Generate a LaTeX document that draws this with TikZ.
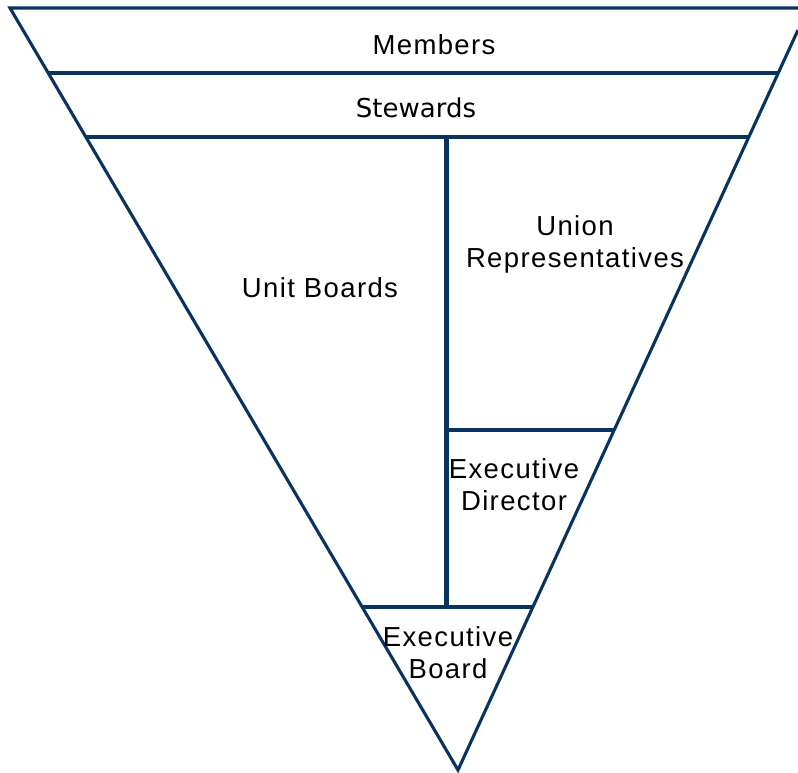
\documentclass[tikz,border=0pt]{standalone}
\usepackage{fontspec}
\setmainfont{Liberation Sans}
\newfontfamily\lbl[LetterSpace=5]{Liberation Sans}
\newfontfamily\dvs{DejaVu Sans}
\usetikzlibrary{calc}
\definecolor{navy}{RGB}{8,51,94}
\tikzset{
  edge/.style={draw=navy, line width=3.1pt},
  thick edge/.style={draw=navy, line width=5pt},
  lab/.style={font=\lbl\fontsize{27.5}{32}\selectfont, align=center, inner sep=0pt, text=black},
}
\begin{document}
\begin{tikzpicture}[x=1pt,y=-1pt]
\useasboundingbox (0,0) rectangle (798,773);
% outline
\coordinate (TL) at (10,8);
\coordinate (TR) at (798,8);
\coordinate (RT) at (798,30);
\coordinate (AP) at (458,770);
\draw[edge, line join=miter] (TR) -- (TL) -- (AP) -- (RT);
% horizontal bands
\coordinate (L1) at (48.4,73);
\coordinate (R1) at (778.2,73);
\coordinate (L2) at (86.0,137);
\coordinate (R2) at (749.1,137);
\coordinate (V1) at (446,137);
\coordinate (V2) at (446,607);
\coordinate (ED1) at (446,430);
\coordinate (ED2) at (614.4,430);
\coordinate (EB1) at (362.3,607);
\coordinate (EB2) at (532.9,607);
\draw[edge] (L1) -- (R1);
\draw[edge] (L2) -- (R2);
\draw[thick edge] (V1) -- (V2);
\draw[edge] (ED1) -- (ED2);
\draw[edge] (EB1) -- (EB2);
% labels
\node[lab] (members) at (434,45) {Members};
\node[lab, font=\dvs\fontsize{26}{32}\selectfont] (stewards) at (416,108) {Stewards};
\node[lab] (unit) at (320,288) {Unit Boards};
\node[lab] (union) at (575,244) {Union\\Representatives};
\node[lab] (exdir) at (514,485) {Executive\\Director};
\node[lab] (exboard) at (448,653) {Executive\\Board};
\end{tikzpicture}
\end{document}
